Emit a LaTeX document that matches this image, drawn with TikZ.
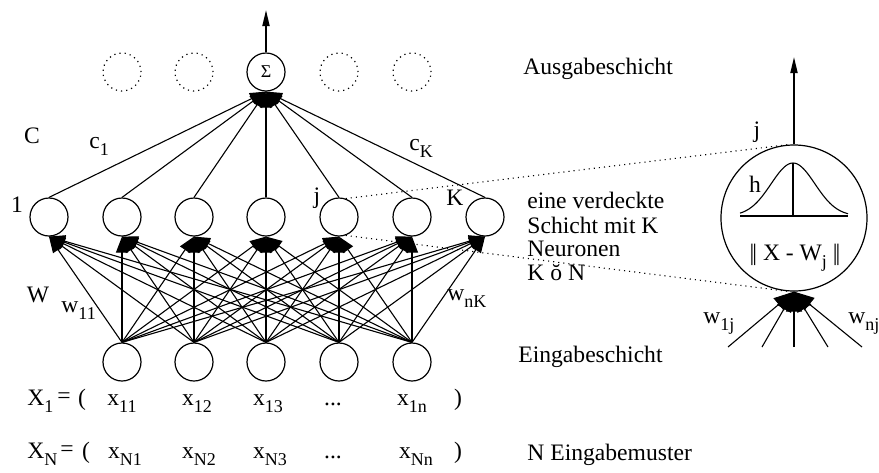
\documentclass[tikz,border=0pt]{standalone}
\usepackage{fontspec}
\setmainfont{Liberation Serif}
\usetikzlibrary{arrows.meta}
% lowered, slightly smaller index text
\newcommand{\lowsub}[1]{\raisebox{-3.5pt}{\fontsize{9}{9}\selectfont #1}}

\begin{document}
\begin{tikzpicture}[x=0.5pt,y=-0.5pt,
  neuron/.style={circle,draw,line width=0.6pt,minimum size=19pt,inner sep=0pt},
  ghost/.style={neuron,dotted},
  link/.style={line width=0.55pt},
  wt/.style={link,-{Triangle[length=8pt,width=6pt]}},
  outarrow/.style={line width=0.9pt,-{Triangle[length=8pt,width=3.5pt]}},
  probe/.style={dotted,line width=0.55pt},
  lbl/.style={font=\fontsize{11.8}{12}\selectfont,inner sep=0pt},
]
\useasboundingbox (0,0) rectangle (879,472);

% output layer
\foreach \i/\x in {1/122,2/194,4/339,5/412}
  \node[ghost] (o\i) at (\x,72) {};
\node[neuron] (sum) at (266,72) {\fontsize{9}{9}\selectfont Σ};
\coordinate (out) at (266,10);
\draw[outarrow] (sum.north) -- (out);

% hidden layer
\foreach \i/\x in {1/49,2/122,3/194,4/266,5/339,6/412,7/485}
  \node[neuron] (h\i) at (\x,217) {};

% input layer
\foreach \i/\x in {1/122,2/194,3/266,4/339,5/412}
  \node[neuron] (x\i) at (\x,362) {};

% weights C
\foreach \h in {1,...,7}
  \draw[wt] (h\h.north) -- (sum.south);
% weights W
\foreach \i in {1,...,5}
  \foreach \h in {1,...,7}
    \draw[wt] (x\i.north) -- (h\h.south);

% layer labels
\node[lbl,anchor=base] (lC) at (32,143) {C};
\node[lbl,anchor=base west] (lc1) at (89,148) {c\lowsub{1}};
\node[lbl,anchor=base west] (lcK) at (409,150) {c\lowsub{K}};
\node[lbl,anchor=base] (l1) at (17,212) {1};
\node[lbl,anchor=base] (lj) at (317,203) {j};
\node[lbl,anchor=base] (lK) at (455,205) {K};
\node[lbl,anchor=base] (lW) at (38,302) {W};
\node[lbl,anchor=base west] (lw11) at (61,312) {w\lowsub{11}};
\node[lbl,anchor=base west] (lwnK) at (447,300) {w\lowsub{nK}};

% input patterns
\node[lbl,anchor=base west] (X1) at (27,405) {X\lowsub{1}};
\node[lbl,anchor=base] (eq1) at (64,403) {=};
\node[lbl,anchor=base] (op1) at (82,405) {(};
\node[lbl,anchor=base] (x11) at (122,405) {x\lowsub{11}};
\node[lbl,anchor=base] (x12) at (197,405) {x\lowsub{12}};
\node[lbl,anchor=base] (x13) at (268,405) {x\lowsub{13}};
\node[lbl,anchor=base] (d1) at (333,405) {...};
\node[lbl,anchor=base] (x1n) at (412,405) {x\lowsub{1n}};
\node[lbl,anchor=base] (cp1) at (458,405) {)};

\node[lbl,anchor=base west] (XN) at (27,458) {X\lowsub{N}};
\node[lbl,anchor=base] (eqN) at (67,456) {=};
\node[lbl,anchor=base] (opN) at (86,458) {(};
\node[lbl,anchor=base] (xN1) at (125,458) {x\lowsub{N1}};
\node[lbl,anchor=base] (xN2) at (199,458) {x\lowsub{N2}};
\node[lbl,anchor=base] (xN3) at (270,458) {x\lowsub{N3}};
\node[lbl,anchor=base] (dN) at (333,458) {...};
\node[lbl,anchor=base] (xNn) at (416,458) {x\lowsub{Nn}};
\node[lbl,anchor=base] (cpN) at (458,458) {)};

% layer descriptions
\node[lbl,anchor=base west] (tout) at (523,74) {Ausgabeschicht};
\node[lbl,anchor=base west] (thid1) at (527,208) {eine verdeckte};
\node[lbl,anchor=base west] (thid2) at (527,233) {Schicht mit K};
\node[lbl,anchor=base west] (thid3) at (527,256) {Neuronen};
\node[lbl,anchor=base west] (thid4) at (527,280) {K ŏ N};
\node[lbl,anchor=base west] (tin) at (518,362) {Eingabeschicht};
\node[lbl,anchor=base west] (tpat) at (527,460) {N Eingabemuster};

% enlarged hidden neuron j
\node[circle,draw,line width=0.6pt,minimum size=73pt,inner sep=0pt] (rbf) at (794,218) {};
\coordinate (rbfout) at (794,57);
\draw[outarrow] (rbf.north) -- (rbfout);
\draw[link] (740,216) -- (848,216);
\draw[link] (793,163) -- (793,216);
\draw[link] plot[domain=-53:55,samples=50,smooth] ({793+\x},{216-53*exp(0-(\x/31)*(\x/31))});
\node[lbl,anchor=base] (lh) at (755,192) {h};
\node[lbl,anchor=base] (lnorm) at (795,260) {|\kern-1pt| X - W\lowsub{j} |\kern-1pt|};
\node[lbl,anchor=base] (ljj) at (757,137) {j};

% inputs of neuron j
\foreach \i/\x in {1/728,2/762,3/794,4/828,5/862}
  \coordinate (b\i) at (\x,347);
\foreach \i in {1,...,5}
  \draw[wt,-{Triangle[length=10pt,width=8pt]}] (b\i) -- (rbf.south);
\node[lbl,anchor=base west] (lw1j) at (703,323) {w\lowsub{1j}};
\node[lbl,anchor=base west] (lwnj) at (848,323) {w\lowsub{nj}};

% zoom lines
\draw[probe] (h5.70) -- (rbf.95);
\draw[probe] (h5.-70) -- (rbf.-95);
\end{tikzpicture}
\end{document}
